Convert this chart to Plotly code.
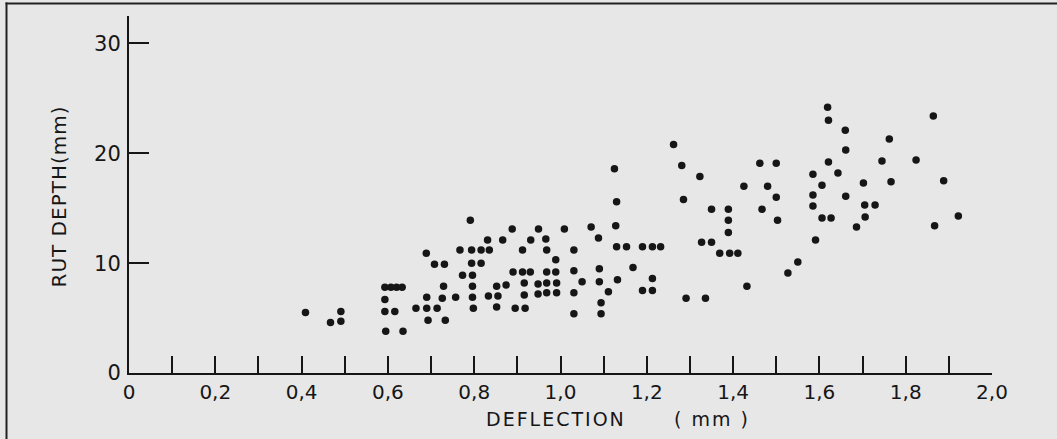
import plotly.graph_objects as go

# ---- data ----
deflection_mm = [
    0.409, 0.467, 0.491, 0.491, 0.593, 0.607, 0.620, 0.633, 0.593, 0.593,
    0.616, 0.595, 0.635, 0.665, 0.689, 0.690, 0.690, 0.714, 0.693, 0.708,
    0.731, 0.729, 0.726, 0.733, 0.757, 0.767, 0.773, 0.791, 0.794, 0.816,
    0.835, 0.794, 0.816, 0.796, 0.796, 0.796, 0.798, 0.831, 0.833, 0.855,
    0.852, 0.852, 0.866, 0.874, 0.888, 0.890, 0.895, 0.918, 0.912, 0.912,
    0.930, 0.916, 0.916, 0.931, 0.949, 0.948, 0.948, 0.966, 0.968, 0.968,
    0.989, 0.968, 0.991, 0.968, 0.991, 0.989, 1.009, 1.031, 1.031, 1.050,
    1.031, 1.031, 1.071, 1.088, 1.090, 1.090, 1.111, 1.094, 1.094, 1.125,
    1.130, 1.128, 1.130, 1.153, 1.132, 1.168, 1.190, 1.213, 1.232, 1.190,
    1.213, 1.213, 1.262, 1.281, 1.285, 1.291, 1.323, 1.336, 1.350, 1.389,
    1.389, 1.389, 1.327, 1.350, 1.369, 1.392, 1.411, 1.425, 1.432, 1.462,
    1.500, 1.480, 1.467, 1.500, 1.503, 1.527, 1.550, 1.619, 1.621, 1.660,
    1.661, 1.621, 1.585, 1.606, 1.643, 1.585, 1.585, 1.606, 1.627, 1.661,
    1.591, 1.686, 1.702, 1.705, 1.729, 1.706, 1.745, 1.762, 1.766, 1.824,
    1.864, 1.888, 1.867, 1.922,
]
rut_depth_mm = [
    5.5, 4.6, 5.6, 4.7, 7.8, 7.8, 7.8, 7.8, 6.7, 5.6,
    5.6, 3.8, 3.8, 5.9, 10.9, 6.9, 5.9, 5.9, 4.8, 9.9,
    9.9, 7.9, 6.8, 4.8, 6.9, 11.2, 8.9, 13.9, 11.2, 11.2,
    11.2, 10.0, 10.0, 8.9, 7.9, 6.9, 5.9, 12.1, 7.0, 7.0,
    7.9, 6.0, 12.1, 8.0, 13.1, 9.2, 5.9, 5.9, 11.2, 9.2,
    9.2, 8.2, 7.1, 12.1, 13.1, 8.1, 7.2, 12.2, 11.2, 9.2,
    9.2, 8.2, 8.2, 7.3, 7.3, 10.3, 13.1, 11.2, 9.3, 8.3,
    7.3, 5.4, 13.3, 12.3, 9.5, 8.3, 7.4, 6.4, 5.4, 18.6,
    15.6, 13.4, 11.5, 11.5, 8.5, 9.6, 11.5, 11.5, 11.5, 7.5,
    7.5, 8.6, 20.8, 18.9, 15.8, 6.8, 17.9, 6.8, 14.9, 14.9,
    13.9, 12.8, 11.9, 11.9, 10.9, 10.9, 10.9, 17.0, 7.9, 19.1,
    19.1, 17.0, 14.9, 16.0, 13.9, 9.1, 10.1, 24.2, 23.0, 22.1,
    20.3, 19.2, 18.1, 17.1, 18.2, 16.2, 15.2, 14.1, 14.1, 16.1,
    12.1, 13.3, 17.3, 15.3, 15.3, 14.2, 19.3, 21.3, 17.4, 19.4,
    23.4, 17.5, 13.4, 14.3,
]

x_tick_values = [round(0.1 * i, 1) for i in range(21)]
x_tick_labels = ["0", "", "0,2", "", "0,4", "", "0,6", "", "0,8", "", "1,0",
                 "", "1,2", "", "1,4", "", "1,6", "", "1,8", "", "2,0"]
y_tick_values = [0, 10, 20, 30]
y_tick_labels = ["0", "10", "20", "30"]

x_title = "DEFLECTION&nbsp;&nbsp;&nbsp;&nbsp;&nbsp;&nbsp;(&nbsp;mm&nbsp;)"
y_title = "RUT DEPTH(mm)"

# ---- layout constants (pixels) ----
W, H = 1057, 439
ML, MR, MT, MB = 129, 65, 16, 66
INK = "#161616"
BG = "#e7e7e7"
FONT = "DejaVu Sans"

plot_w = W - ML - MR
plot_h = H - MT - MB


def px_x(p):
    return (p - ML) / plot_w


def px_y(p):
    return (H - MB - p) / plot_h


fig = go.Figure()
fig.add_trace(go.Scatter(
    x=deflection_mm, y=rut_depth_mm, mode="markers",
    marker=dict(size=7.5, color=INK, line=dict(width=0)),
    hoverinfo="x+y", showlegend=False,
))

fig.update_layout(
    width=W, height=H,
    margin=dict(l=ML, r=MR, t=MT, b=MB, pad=0),
    paper_bgcolor=BG, plot_bgcolor=BG,
    font=dict(family=FONT, size=20, color=INK),
    xaxis=dict(
        range=[0, 2.0], showgrid=False, zeroline=False,
        showline=True, linecolor=INK, linewidth=2,
        ticks="inside", ticklen=17, tickwidth=2, tickcolor=INK,
        tickvals=x_tick_values, ticktext=x_tick_labels,
        tickfont=dict(family=FONT, size=20, color=INK),
        ticklabelstandoff=0,
    ),
    yaxis=dict(
        range=[0, 32.5], showgrid=False, zeroline=False,
        showline=True, linecolor=INK, linewidth=2,
        ticks="inside", ticklen=20, tickwidth=2, tickcolor=INK,
        tickvals=y_tick_values, ticktext=y_tick_labels,
        tickfont=dict(family=FONT, size=21, color=INK),
        ticklabelstandoff=2,
    ),
    annotations=[
        dict(text=x_title, xref="paper", yref="paper",
             x=px_x(618), y=px_y(419), xanchor="center", yanchor="middle",
             showarrow=False, font=dict(family=FONT, size=19, color=INK)),
        dict(text=y_title, xref="paper", yref="paper",
             x=px_x(59), y=px_y(197), xanchor="center", yanchor="middle",
             textangle=-90, showarrow=False,
             font=dict(family=FONT, size=20, color=INK)),
    ],
    shapes=[
        dict(type="line", xref="paper", yref="paper",
             x0=px_x(6.5), x1=px_x(6.5), y0=px_y(2.5), y1=px_y(H + 2),
             line=dict(color="#222222", width=2)),
        dict(type="line", xref="paper", yref="paper",
             x0=px_x(5.5), x1=px_x(W + 2), y0=px_y(3.5), y1=px_y(3.5),
             line=dict(color="#222222", width=2)),
    ],
)

post = """
var gd = document.getElementById('{plot_id}');
gd.querySelectorAll('text.annotation-text').forEach(function(t) {
  if (t.textContent.indexOf('DEFLECTION') === 0) { t.style.letterSpacing = '2px'; }
  else { t.style.letterSpacing = '1px'; }
});
"""

fig.write_html("out.html", post_script=post)
